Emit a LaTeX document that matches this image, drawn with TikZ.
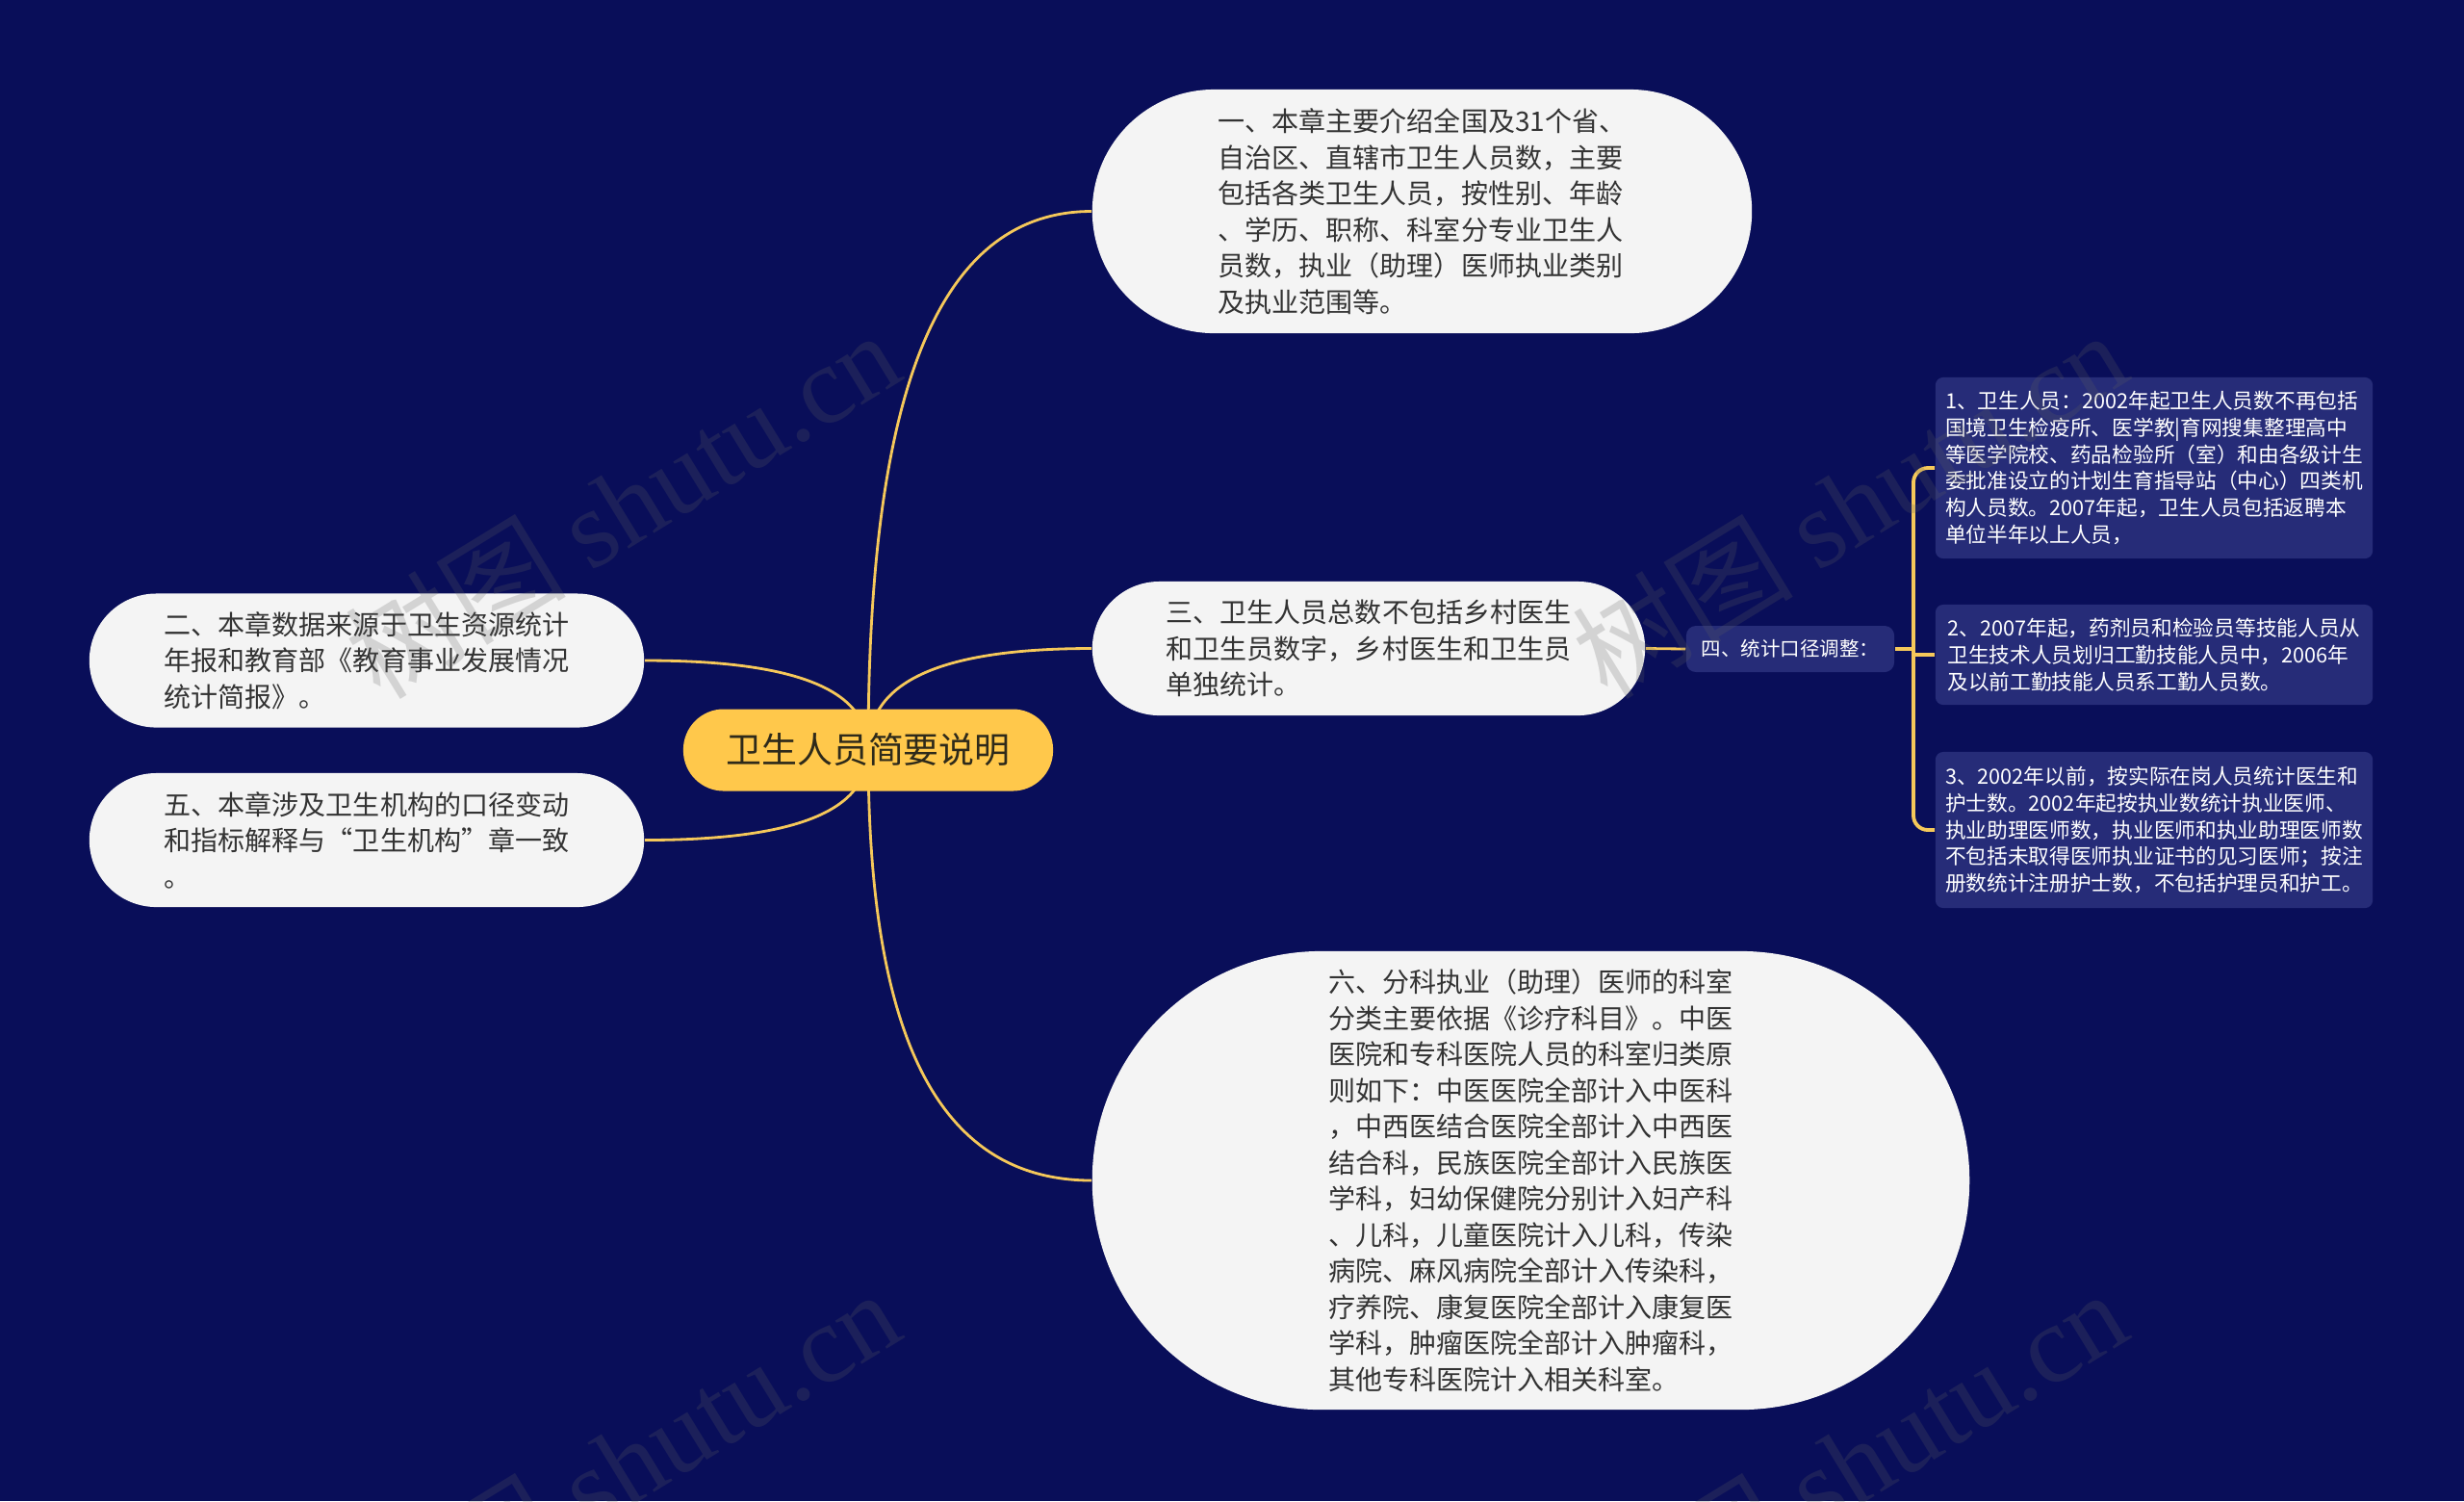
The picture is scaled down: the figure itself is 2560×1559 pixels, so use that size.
\documentclass[tikz,border=0pt]{standalone}
\usepackage{fontspec}
\setmainfont{Noto Sans CJK SC}
\newfontfamily\wmlatin{Liberation Serif}
\usetikzlibrary{calc}
\definecolor{bgc}{HTML}{090E59}
\definecolor{nodefill}{HTML}{F4F4F4}
\definecolor{txtdark}{HTML}{333333}
\definecolor{rootfill}{HTML}{FFC84B}
\definecolor{roottxt}{HTML}{2E2A1A}
\definecolor{subfill}{HTML}{262C78}
\definecolor{linkc}{HTML}{F5C85A}
\definecolor{wmgray}{HTML}{606060}
\pgfdeclarelayer{back}
\pgfdeclarelayer{links}
\pgfsetlayers{back,links,main}
\newcommand\mmlink[2]{\draw[link] (#1.center) .. controls ($(#1.center)!0.6!(#1.center |- #2)$) and ($(#1.center |- #2)!0.25!(#2)$) .. (#2);}
\begin{document}
\begin{tikzpicture}[x=0.01cm,y=-0.01cm,
  pill/.style={fill=nodefill, text=txtdark, align=left, inner sep=0pt,
    font=\fontsize{7.97pt}{10.67pt}\selectfont},
  subbox/.style={fill=subfill, text=white, align=left, inner sep=0pt,
    rounded corners=0.08cm, minimum width=4.54cm,
    font=\fontsize{6.17pt}{7.91pt}\selectfont},
  rootn/.style={fill=rootfill, text=roottxt, inner sep=0pt,
    minimum width=3.84cm, minimum height=0.85cm, rounded corners=0.42cm,
    font=\fontsize{10.5pt}{12pt}\selectfont},
  labeln/.style={fill=subfill, text=white, inner sep=0pt,
    minimum width=2.16cm, minimum height=0.48cm, rounded corners=0.1cm,
    font=\fontsize{5.83pt}{7pt}\selectfont},
  link/.style={draw=linkc, line width=0.8pt},
  bracket/.style={draw=linkc, line width=1.1pt},
  wm/.style={text=wmgray, text opacity=0.22, rotate=31.5,
    font=\fontsize{32.7pt}{36pt}\selectfont}
]
\begin{pgfonlayer}{back}
\fill[bgc] (0,0) rectangle (2560,1559);
\end{pgfonlayer}
\useasboundingbox (0,0) rectangle (2560,1559);

% root
\node[rootn] (root) at (902,779) {卫生人员简要说明};

% main branches
\node[pill, minimum width=6.85cm, minimum height=2.53cm, rounded corners=1.265cm] (n1) at (1477.5,219.5)
 {一、本章主要介绍全国及31个省、\\自治区、直辖市卫生人员数，主要\\包括各类卫生人员，按性别、年龄\\、学历、职称、科室分专业卫生人\\员数，执业（助理）医师执业类别\\及执业范围等。};
\node[pill, minimum width=5.76cm, minimum height=1.39cm, rounded corners=0.695cm] (n2) at (381,686)
 {二、本章数据来源于卫生资源统计\\年报和教育部《教育事业发展情况\\统计简报》。};
\node[pill, minimum width=5.74cm, minimum height=1.39cm, rounded corners=0.695cm] (n3) at (1422,673.5)
 {三、卫生人员总数不包括乡村医生\\和卫生员数字，乡村医生和卫生员\\单独统计。};
\node[pill, minimum width=5.76cm, minimum height=1.39cm, rounded corners=0.695cm] (n5) at (381,872.5)
 {五、本章涉及卫生机构的口径变动\\和指标解释与“卫生机构”章一致\\。};
\node[pill, minimum width=9.11cm, minimum height=4.76cm, rounded corners=2.38cm] (n6) at (1590.5,1226)
 {六、分科执业（助理）医师的科室\\分类主要依据《诊疗科目》。中医\\医院和专科医院人员的科室归类原\\则如下：中医医院全部计入中医科\\，中西医结合医院全部计入中西医\\结合科，民族医院全部计入民族医\\学科，妇幼保健院分别计入妇产科\\、儿科，儿童医院计入儿科，传染\\病院、麻风病院全部计入传染科，\\疗养院、康复医院全部计入康复医\\学科，肿瘤医院全部计入肿瘤科，\\其他专科医院计入相关科室。};

% branch four
\node[labeln] (n4) at (1860,674) {四、统计口径调整：};
\node[subbox, minimum height=1.88cm] (s1) at (2238,486)
 {1、卫生人员：2002年起卫生人员数不再包括\\国境卫生检疫所、医学教|育网搜集整理高中\\等医学院校、药品检验所（室）和由各级计生\\委批准设立的计划生育指导站（中心）四类机\\构人员数。2007年起，卫生人员包括返聘本\\单位半年以上人员，};
\node[subbox, minimum height=1.04cm] (s2) at (2238,680)
 {2、2007年起，药剂员和检验员等技能人员从\\卫生技术人员划归工勤技能人员中，2006年\\及以前工勤技能人员系工勤人员数。};
\node[subbox, minimum height=1.62cm] (s3) at (2238,862)
 {3、2002年以前，按实际在岗人员统计医生和\\护士数。2002年起按执业数统计执业医师、\\执业助理医师数，执业医师和执业助理医师数\\不包括未取得医师执业证书的见习医师；按注\\册数统计注册护士数，不包括护理员和护工。};
\coordinate (bk) at (1988,674);

% connectors
\begin{pgfonlayer}{links}
\mmlink{root}{n1.west}
\mmlink{root}{n3.west}
\mmlink{root}{n6.west}
\mmlink{root}{n2.east}
\mmlink{root}{n5.east}
\draw[link] (n3.east) -- (n4.west);
\draw[bracket] (n4.east) -- (bk);
\draw[bracket, rounded corners=0.15cm] (s1.west) -- (s1.west -| bk) -- (s3.west -| bk) -- (s3.west);
\draw[bracket] (bk |- s2.west) -- (s2.west);
\end{pgfonlayer}

% watermarks
\node[wm] (wmA) at (646,523) {树图 {\wmlatin shutu.cn}};
\node[wm] (wmB) at (1921,523) {树图 {\wmlatin shutu.cn}};
\node[wm] (wmC) at (646,1519) {树图 {\wmlatin shutu.cn}};
\node[wm] (wmD) at (1921,1519) {树图 {\wmlatin shutu.cn}};
\end{tikzpicture}
\end{document}
